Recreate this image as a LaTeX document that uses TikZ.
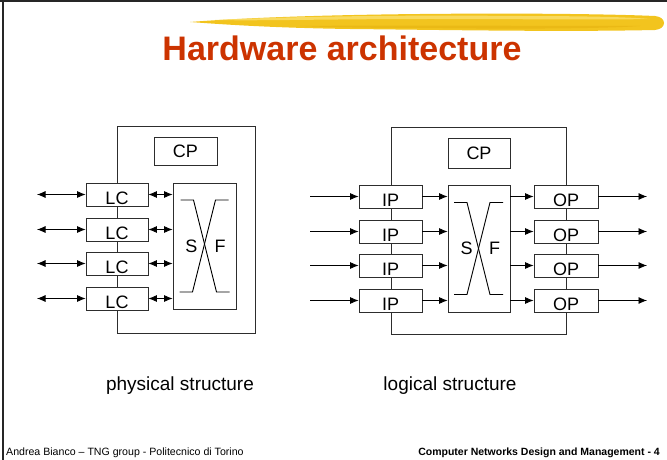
\documentclass[tikz,border=0pt]{standalone}
\usepackage{fontspec}
\setmainfont{Liberation Sans}
\usetikzlibrary{arrows.meta}

\definecolor{titlered}{RGB}{204,51,0}
\definecolor{brushgold}{RGB}{242,196,30}
\definecolor{brushlight}{RGB}{250,224,112}
\definecolor{brushdark}{RGB}{230,178,16}
\definecolor{boxline}{RGB}{45,45,45}

\begin{document}
\begin{tikzpicture}[x=1pt,y=-1pt,
  every node/.style={inner sep=0pt},
  boxfont/.style={font=\fontsize{18}{18}\selectfont},
  frame/.style={draw=boxline, line width=0.8pt},
  unit/.style={draw=boxline, line width=0.8pt, fill=white, boxfont,
    minimum width=63pt, minimum height=23pt, text height=19pt, text depth=0pt},
  ctrl/.style={draw=boxline, line width=0.8pt, fill=white, boxfont,
    minimum width=63pt, minimum height=28pt},
  fabric/.style={draw=boxline, line width=0.8pt, fill=white,
    minimum width=63pt, minimum height=126pt},
  xline/.style={line width=0.9pt, black},
  tip/.tip={Latex[length=8.5pt,width=7pt]},
  arr/.style={line width=0.8pt, black, -tip},
  biarr/.style={line width=0.8pt, black, tip-tip},
  caption/.style={anchor=base, font=\fontsize{19}{19}\selectfont},
]
\useasboundingbox (0,0) rectangle (667,460);

% slide edges
\draw[line width=2pt, black!85] (0,1) -- (667,1);
\draw[line width=2pt, black!85] (3,0) -- (3,460);

% brush stroke above the title
\fill[brushgold] (190,22) .. controls (240,18) and (320,15) .. (420,14)
  .. controls (520,13) and (610,14) .. (655,16)
  .. controls (667,17) and (667,29) .. (655,30)
  .. controls (560,32) and (450,30) .. (350,29)
  .. controls (280,28) and (230,25) .. cycle;
\fill[brushlight, opacity=0.8] (215,20) .. controls (300,16) and (420,15) .. (520,16)
  .. controls (580,16) and (630,17) .. (650,19)
  .. controls (600,20) and (520,19) .. (430,19)
  .. controls (330,19) and (260,21) .. cycle;
\fill[brushdark, opacity=0.6] (300,26) .. controls (400,25) and (520,26) .. (640,26)
  .. controls (600,29) and (500,29) .. (420,28)
  .. controls (360,28) and (320,27) .. cycle;

% title
\node[anchor=base, font=\fontsize{34}{34}\selectfont\bfseries, text=titlered] (title) at (342,61) {Hardware architecture};

% ---------- physical structure ----------
\node[frame, minimum width=138pt, minimum height=207pt] (frameL) at (186,229.5) {};
\node[ctrl] (cpL) at (185.5,151) {CP};
\node[fabric] (sfL) at (204.5,246) {};
\draw[xline] ([shift={(-24,-46)}]sfL.center) -- ++(13,0) -- ++(23,92) -- ++(13,0);
\draw[xline] ([shift={(24,-46)}]sfL.center) -- ++(-13,0) -- ++(-23,92) -- ++(-13,0);
\node[boxfont] (sL) at ([xshift=-13pt]sfL.center) {S};
\node[boxfont] (fL) at ([xshift=15.5pt]sfL.center) {F};

\foreach \i/\y in {1/194.5, 2/229.5, 3/263.5, 4/298.5} {
  \node[unit, minimum width=62pt] (lc\i) at (117,\y) {LC};
  \coordinate (extL\i) at (37,\y);
  \draw[biarr] (extL\i) -- (lc\i.west);
  \draw[biarr] (lc\i.east) -- (lc\i.east -| sfL.west);
}

% ---------- logical structure ----------
\node[frame, minimum width=175pt, minimum height=207pt] (frameR) at (478.5,230.5) {};
\node[ctrl, minimum width=62pt, minimum height=30pt] (cpR) at (479,153) {CP};
\node[fabric, minimum width=62pt, minimum height=127pt] (sfR) at (479,248.5) {};
\draw[xline] ([shift={(-25,-46)}]sfR.center) -- ++(13,0) -- ++(23,92) -- ++(13,0);
\draw[xline] ([shift={(24,-46)}]sfR.center) -- ++(-13,0) -- ++(-23,92) -- ++(-13,0);
\node[boxfont] (sR) at ([xshift=-12.5pt]sfR.center) {S};
\node[boxfont] (fR) at ([xshift=15.5pt]sfR.center) {F};

\foreach \i/\y in {1/196.5, 2/231.5, 3/265.5, 4/300.5} {
  \node[unit] (ip\i) at (390.5,\y) {IP};
  \node[unit, minimum width=64pt] (op\i) at (566,\y) {OP};
  \coordinate (inR\i) at (310,\y);
  \coordinate (outR\i) at (647,\y);
  \draw[arr] (inR\i) -- (ip\i.west);
  \draw[arr] (ip\i.east) -- (ip\i.east -| sfR.west);
  \draw[arr] (op\i.west -| sfR.east) -- (op\i.west);
  \draw[arr] (op\i.east) -- (outR\i);
}

% captions
\node[caption] (physcap) at (180,390) {physical structure};
\node[caption] (logcap) at (450,390) {logical structure};

% footer
\node[anchor=base west, font=\fontsize{10.6}{10.6}\selectfont] (author) at (6,455) {Andrea Bianco – TNG group - Politecnico di Torino};
\node[anchor=base east, font=\fontsize{10.5}{10.5}\selectfont\bfseries] (course) at (660,455) {Computer Networks Design and Management - 4};
\end{tikzpicture}
\end{document}
